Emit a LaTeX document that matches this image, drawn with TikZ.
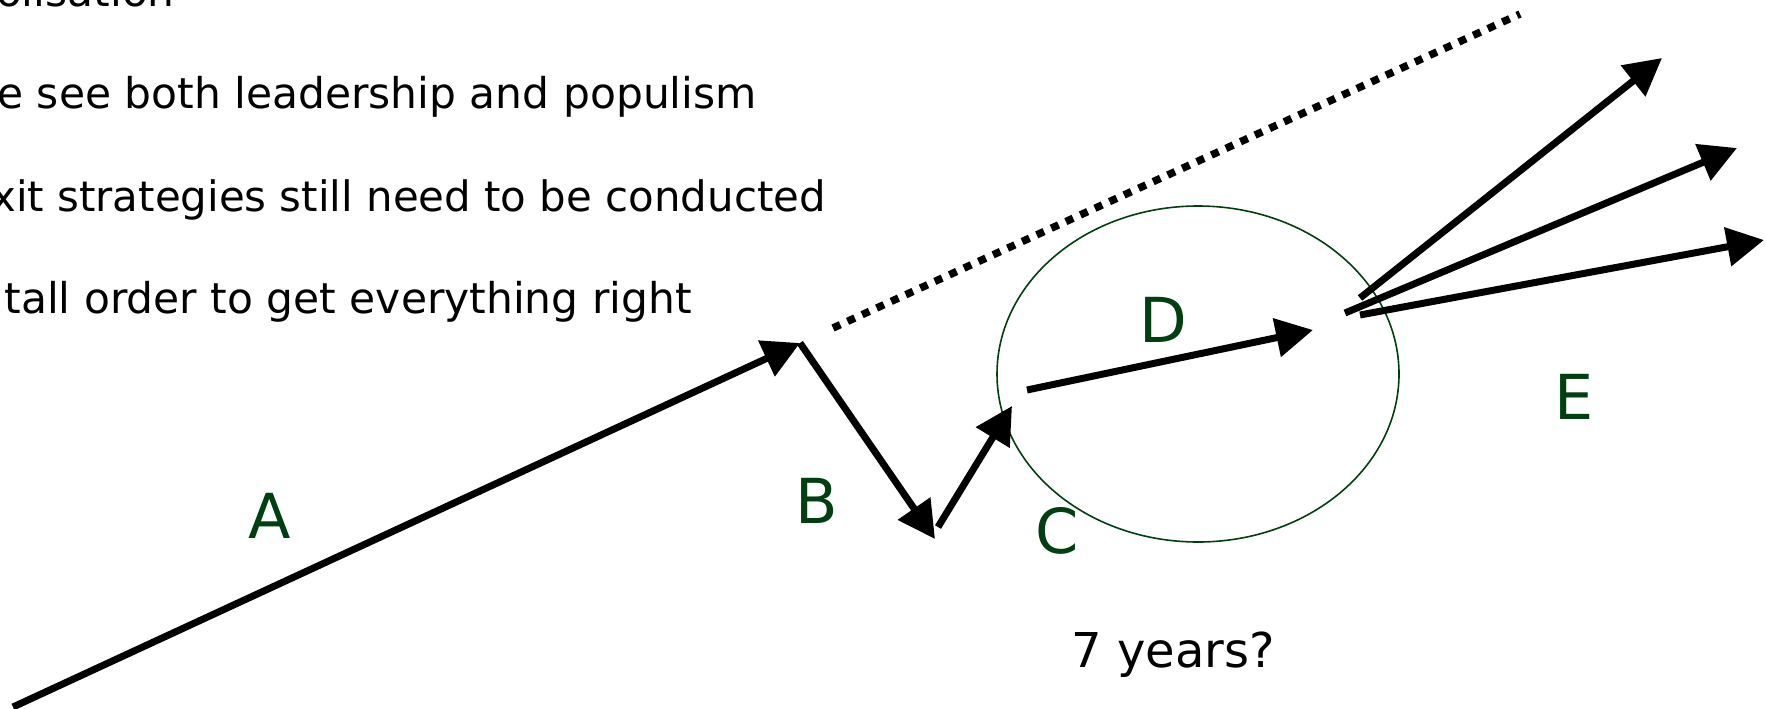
\documentclass[tikz,border=0pt]{standalone}
\usepackage{fontspec}
\setmainfont{DejaVu Sans}
\usetikzlibrary{arrows.meta,shapes.geometric}
\definecolor{lblgreen}{RGB}{0,64,16}
\tikzset{
  bigarrow/.style={line width=7pt,-{Triangle[length=37pt,width=38pt]}},
  dotline/.style={line width=7.5pt,dash pattern=on 8pt off 8pt},
  lbl/.style={text=lblgreen,font=\fontsize{62}{62}\selectfont,inner sep=0pt,anchor=base},
  bullet/.style={font=\fontsize{42.4}{42.4}\selectfont,inner sep=0pt,anchor=base east},
}
\begin{document}
\begin{tikzpicture}[x=1pt,y=-1pt]
\useasboundingbox (0,0) rectangle (1766,709);
\clip (0,0) rectangle (1766,709);
% bullet text (cut at the left edge)
\node[bullet] (t0) at (175,7) {olisation};
\node[bullet] (t1) at (757,108) {e see both leadership and populism};
\node[bullet,font=\fontsize{41.9}{41.9}\selectfont] (t2) at (826,211) {xit strategies still need to be conducted};
\node[bullet] (t3) at (692,313) {tall order to get everything right};
% ellipse
\node[draw=lblgreen,line width=1.6pt,ellipse,minimum width=402pt,minimum height=336pt,inner sep=0pt] (ell) at (1198,374) {};
% coordinates
\coordinate (a0) at (13,707);
\coordinate (a1) at (800,343);
\coordinate (b1) at (935,539);
\coordinate (c0) at (938,527);
\coordinate (c1) at (1012,406);
\coordinate (d0) at (1027,390);
\coordinate (d1) at (1313,330);
\coordinate (eu0) at (1360,298);
\coordinate (eu1) at (1662,58);
\coordinate (em0) at (1345,313);
\coordinate (em1) at (1737,148);
\coordinate (el0) at (1360,315);
\coordinate (el1) at (1764,240);
\coordinate (p0) at (833,328);
\coordinate (p1) at (1520,14);
% connectors
\draw[dotline] (p0) -- (p1);
\draw[bigarrow] (a0) -- (a1);
\draw[bigarrow] (a1) -- (b1);
\draw[bigarrow] (c0) -- (c1);
\draw[bigarrow] (d0) -- (d1);
\draw[bigarrow] (eu0) -- (eu1);
\draw[bigarrow] (em0) -- (em1);
\draw[bigarrow] (el0) -- (el1);
% labels
\node[lbl] (la) at (270,538) {A};
\node[lbl] (lb) at (817,523) {B};
\node[lbl] (lc) at (1057,553) {C};
\node[lbl] (ld) at (1163,342) {D};
\node[lbl] (le) at (1574,419) {E};
\node[font=\fontsize{48}{48}\selectfont,inner sep=0pt,anchor=base] (yrs) at (1173,667) {7 years?};
\end{tikzpicture}
\end{document}
